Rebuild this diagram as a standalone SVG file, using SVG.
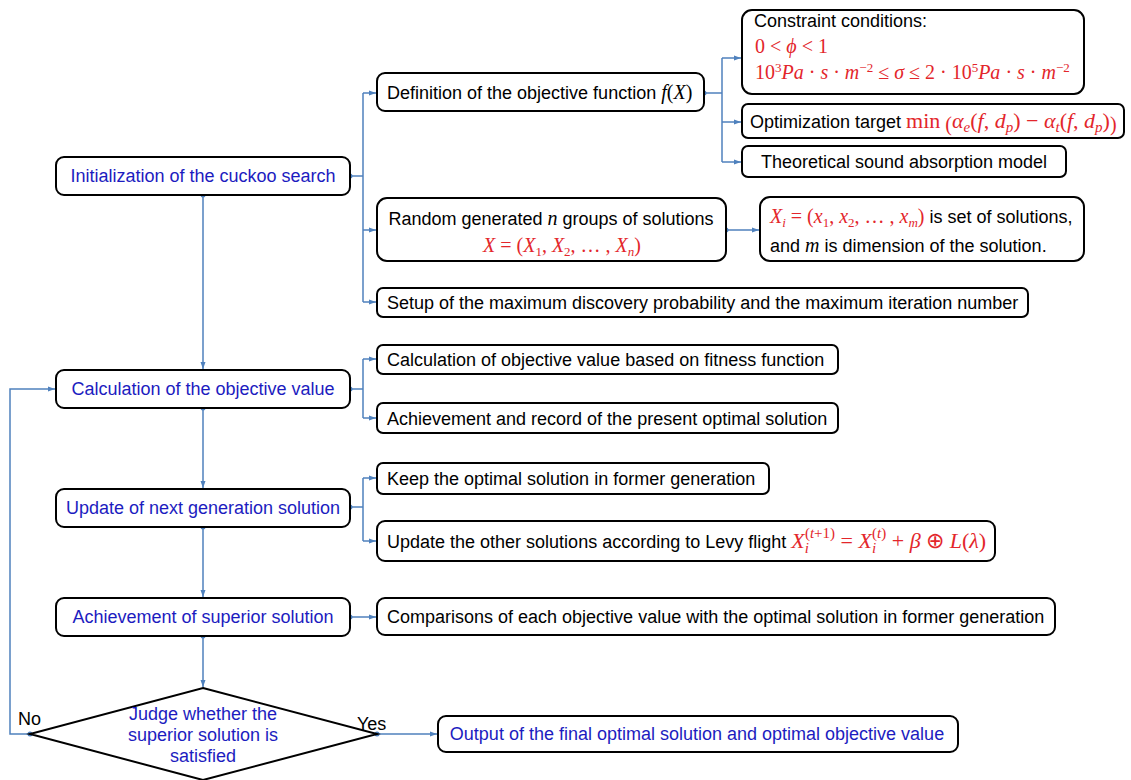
<svg xmlns="http://www.w3.org/2000/svg" width="1131" height="780" viewBox="0 0 1131 780">
<style>
.box{fill:#fff;stroke:#000;stroke-width:2}
.t{font-family:"Liberation Sans",Arial,sans-serif;font-size:18px;fill:#000}
.b{fill:#1c1cc0}
.m{font-family:"Liberation Serif","Times New Roman",serif;font-style:italic;font-size:20px}
.r{fill:#e3262b}
.up{font-style:normal}
.s{font-size:13px}
.m2{font-size:22px}
.s2{font-size:15px}
.c{fill:none;stroke:#4f81bd;stroke-width:1.5}
.d{fill:#4f81bd}
</style>
<defs>
<marker id="ar" markerWidth="8" markerHeight="8" refX="7" refY="4" orient="auto" markerUnits="userSpaceOnUse">
<path d="M0,1.5 L7,4 L0,6.5 Z" fill="#4f81bd"/>
</marker>
</defs>

<g id="connectors">
<path class="c" d="M350,176 H363"/>
<path class="c" d="M363,93 V302"/>
<path class="c" d="M363,93 H376" marker-end="url(#ar)"/>
<path class="c" d="M363,230 H376" marker-end="url(#ar)"/>
<path class="c" d="M363,302 H376" marker-end="url(#ar)"/>
<path class="c" d="M704,93 H722"/>
<path class="c" d="M722,58 V162"/>
<path class="c" d="M722,58 H741" marker-end="url(#ar)"/>
<path class="c" d="M722,122 H741" marker-end="url(#ar)"/>
<path class="c" d="M722,162 H741" marker-end="url(#ar)"/>
<path class="c" d="M726,230 H759" marker-end="url(#ar)"/>
<path class="c" d="M203,195 V369" marker-end="url(#ar)"/>
<path class="c" d="M350,389 H363 M363,359 V418"/>
<path class="c" d="M363,359 H376" marker-end="url(#ar)"/>
<path class="c" d="M363,418 H376" marker-end="url(#ar)"/>
<path class="c" d="M203,408 V488" marker-end="url(#ar)"/>
<path class="c" d="M350,507 H363 M363,478 V541"/>
<path class="c" d="M363,478 H376" marker-end="url(#ar)"/>
<path class="c" d="M363,541 H376" marker-end="url(#ar)"/>
<path class="c" d="M203,527 V597" marker-end="url(#ar)"/>
<path class="c" d="M350,617 H376" marker-end="url(#ar)"/>
<path class="c" d="M203,636 V687" marker-end="url(#ar)"/>
<path class="c" d="M30,734 H10 V389 H55" marker-end="url(#ar)"/>
<path class="c" d="M377,734 H437" marker-end="url(#ar)"/>
<g class="d">
<circle cx="350" cy="176" r="2.5"/><circle cx="203" cy="195" r="2.5"/>
<circle cx="704" cy="93" r="2.5"/><circle cx="726" cy="230" r="2.5"/>
<circle cx="350" cy="389" r="2.5"/><circle cx="203" cy="408" r="2.5"/>
<circle cx="350" cy="507" r="2.5"/><circle cx="203" cy="527" r="2.5"/>
<circle cx="350" cy="617" r="2.5"/><circle cx="203" cy="636" r="2.5"/>
<circle cx="30" cy="734" r="2.5"/><circle cx="377" cy="734" r="2.5"/>
</g>
</g>

<g id="init">
<rect class="box" x="56" y="157" width="294" height="38" rx="8"/>
<text class="t b" x="203" y="182" text-anchor="middle">Initialization of the cuckoo search</text>
</g>
<g id="calc">
<rect class="box" x="56" y="370" width="294" height="38" rx="8"/>
<text class="t b" x="203" y="395" text-anchor="middle">Calculation of the objective value</text>
</g>
<g id="update">
<rect class="box" x="56" y="489" width="294" height="38" rx="8"/>
<text class="t b" x="203" y="514" text-anchor="middle">Update of next generation solution</text>
</g>
<g id="achieve">
<rect class="box" x="56" y="598" width="294" height="38" rx="8"/>
<text class="t b" x="203" y="623" text-anchor="middle">Achievement of superior solution</text>
</g>
<g id="judge">
<polygon class="box" points="203,688 377,734 203,780 30,734"/>
<text class="t b" text-anchor="middle"><tspan x="203" y="720">Judge whether the</tspan><tspan x="203" y="741">superior solution is</tspan><tspan x="203" y="762">satisfied</tspan></text>
<text class="t" x="18" y="725">No</text>
<text class="t" x="357" y="730">Yes</text>
</g>
<g id="output">
<rect class="box" x="438" y="716" width="520" height="36" rx="8"/>
<text class="t b" x="697" y="740" text-anchor="middle">Output of the final optimal solution and optimal objective value</text>
</g>

<g id="definition">
<rect class="box" x="377" y="73" width="327" height="38" rx="8"/>
<text class="t" x="387" y="99">Definition of the objective function <tspan class="m">f</tspan><tspan class="m up">(</tspan><tspan class="m">X</tspan><tspan class="m up">)</tspan></text>
</g>
<g id="constraint">
<rect class="box" x="742" y="10" width="342" height="84" rx="10"/>
<text class="t" x="754" y="27">Constraint conditions:</text>
<text class="m r" x="755" y="53"><tspan class="up">0 &lt; </tspan>ϕ<tspan class="up"> &lt; 1</tspan></text>
<text class="m r" x="755" y="79"><tspan class="up">10</tspan><tspan class="up s" dy="-7">3</tspan><tspan dy="7">Pa</tspan><tspan class="up"> · </tspan>s<tspan class="up"> · </tspan>m<tspan class="up s" dy="-7">−2</tspan><tspan class="up" dy="7"> ≤ </tspan>σ<tspan class="up"> ≤ 2 · 10</tspan><tspan class="up s" dy="-7">5</tspan><tspan dy="7">Pa</tspan><tspan class="up"> · </tspan>s<tspan class="up"> · </tspan>m<tspan class="up s" dy="-7">−2</tspan></text>
</g>
<g id="opttarget">
<rect class="box" x="742" y="104" width="382" height="34" rx="6"/>
<text class="t" x="750" y="128">Optimization target <tspan class="m m2 r up">min</tspan><tspan class="m r up" font-size="30" dy="3"> (</tspan><tspan class="m m2 r" dy="-3">α</tspan><tspan class="m r s2" dy="4">e</tspan><tspan class="m m2 r up" dy="-4">(</tspan><tspan class="m m2 r">f</tspan><tspan class="m m2 r up">, </tspan><tspan class="m m2 r">d</tspan><tspan class="m r s2" dy="4">p</tspan><tspan class="m m2 r up" dy="-4">) − </tspan><tspan class="m m2 r">α</tspan><tspan class="m r s2" dy="4">t</tspan><tspan class="m m2 r up" dy="-4">(</tspan><tspan class="m m2 r">f</tspan><tspan class="m m2 r up">, </tspan><tspan class="m m2 r">d</tspan><tspan class="m r s2" dy="4">p</tspan><tspan class="m m2 r up" dy="-4">)</tspan><tspan class="m r up" font-size="30" dy="3">)</tspan></text>
</g>
<g id="theoretical">
<rect class="box" x="742" y="146" width="324" height="31" rx="6"/>
<text class="t" x="904" y="168" text-anchor="middle">Theoretical sound absorption model</text>
</g>
<g id="random">
<rect class="box" x="377" y="198" width="349" height="63" rx="10"/>
<text class="t" x="551" y="225" text-anchor="middle">Random generated <tspan class="m">n</tspan> groups of solutions</text>
<text class="m r" x="562" y="252" text-anchor="middle">X<tspan class="up"> = (</tspan>X<tspan class="up s" dy="4">1</tspan><tspan class="up" dy="-4">, </tspan>X<tspan class="up s" dy="4">2</tspan><tspan class="up" dy="-4">, … , </tspan>X<tspan class="s" dy="4">n</tspan><tspan class="up" dy="-4">)</tspan></text>
</g>
<g id="xi">
<rect class="box" x="760" y="197" width="324" height="64" rx="10"/>
<text class="t" x="770" y="223"><tspan class="m r">X</tspan><tspan class="m r s" dy="4">i</tspan><tspan class="m r up" dy="-4"> = (</tspan><tspan class="m r">x</tspan><tspan class="m r up s" dy="4">1</tspan><tspan class="m r up" dy="-4">, </tspan><tspan class="m r">x</tspan><tspan class="m r up s" dy="4">2</tspan><tspan class="m r up" dy="-4">, … , </tspan><tspan class="m r">x</tspan><tspan class="m r s" dy="4">m</tspan><tspan class="m r up" dy="-4">)</tspan> is set of solutions,</text>
<text class="t" x="770" y="252">and <tspan class="m">m</tspan> is dimension of the solution.</text>
</g>
<g id="setup">
<rect class="box" x="377" y="288" width="651" height="29" rx="6"/>
<text class="t" x="387" y="309">Setup of the maximum discovery probability and the maximum iteration number</text>
</g>
<g id="calcobj">
<rect class="box" x="377" y="345" width="461" height="29" rx="6"/>
<text class="t" x="387" y="366">Calculation of objective value based on fitness function</text>
</g>
<g id="record">
<rect class="box" x="377" y="403" width="461" height="30" rx="6"/>
<text class="t" x="387" y="425">Achievement and record of the present optimal solution</text>
</g>
<g id="keep">
<rect class="box" x="377" y="463" width="392" height="31" rx="6"/>
<text class="t" x="387" y="485">Keep the optimal solution in former generation</text>
</g>
<g id="levy">
<rect class="box" x="377" y="521" width="618" height="40" rx="8"/>
<text class="t" x="387" y="548">Update the other solutions according to Levy flight <tspan class="m m2 r">X</tspan><tspan class="m r s2" dy="5">i</tspan><tspan class="m r up s2" dx="-4" dy="-15">(</tspan><tspan class="m r s2">t</tspan><tspan class="m r up s2">+1)</tspan><tspan class="m m2 r up" dy="10"> = </tspan><tspan class="m m2 r">X</tspan><tspan class="m r s2" dy="5">i</tspan><tspan class="m r up s2" dx="-4" dy="-15">(</tspan><tspan class="m r s2">t</tspan><tspan class="m r up s2">)</tspan><tspan class="m m2 r up" dy="10"> + </tspan><tspan class="m m2 r">β</tspan><tspan class="m m2 r up"> ⊕ </tspan><tspan class="m m2 r">L</tspan><tspan class="m m2 r up">(</tspan><tspan class="m m2 r">λ</tspan><tspan class="m m2 r up">)</tspan></text>
</g>
<g id="compare">
<rect class="box" x="377" y="598" width="678" height="37" rx="8"/>
<text class="t" x="387" y="623">Comparisons of each objective value with the optimal solution in former generation</text>
</g>
</svg>
